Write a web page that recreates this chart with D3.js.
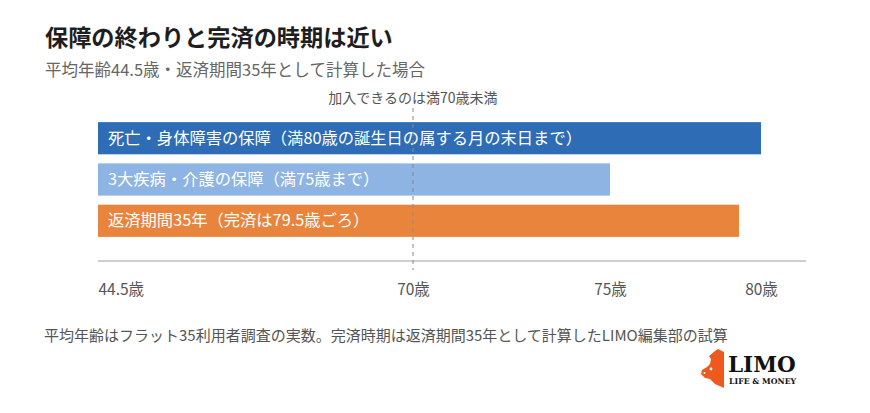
<!DOCTYPE html>
<html><head><meta charset="utf-8">
<script src="https://cdn.jsdelivr.net/npm/d3@7"></script>
<style>
html,body{margin:0;padding:0;background:#fff;}
svg{display:block;font-family:"Noto Sans CJK JP","Noto Sans",sans-serif;}
</style></head>
<body>
<svg id="chart" width="870" height="413"></svg>
<script>
const title = "保障の終わりと完済の時期は近い";
const subtitle = "平均年齢44.5歳・返済期間35年として計算した場合";
const note = "平均年齢はフラット35利用者調査の実数。完済時期は返済期間35年として計算したLIMO編集部の試算";
const refLabel = "加入できるのは満70歳未満";
const startAge = 44.5;
const refAge = 70;
const categories = ["死亡・身体障害の保障（満80歳の誕生日の属する月の末日まで）", "3大疾病・介護の保障（満75歳まで）", "返済期間35年（完済は79.5歳ごろ）"];
const endAges = [80, 75, 79.5];
const barColors = ["#2e6db5", "#8db4e2", "#e8843c"];
const tickValues = [44.5, 70, 75, 80];

const svg = d3.select("#chart");

// illustrative (non-uniform) age axis, as in the original graphic
const x = d3.scaleLinear()
  .domain([44.5, 70, 75, 79.5, 80])
  .range([98, 413, 610, 739, 761]);

const y = d3.scaleBand().domain(categories).range([118, 241]).paddingInner(0.22).paddingOuter(0.1);

svg.append("text").attr("x", 45).attr("y", 46)
  .attr("font-size", 23.2).attr("font-weight", "bold").attr("fill", "#1e1e1e").text(title);
svg.append("text").attr("x", 45).attr("y", 76)
  .attr("font-size", 16.5).attr("fill", "#666").text(subtitle);

// bars
svg.selectAll("rect.bar").data(categories).join("rect")
  .attr("class", "bar")
  .attr("x", x(startAge))
  .attr("y", d => y(d))
  .attr("width", (d, i) => x(endAges[i]) - x(startAge))
  .attr("height", y.bandwidth())
  .attr("fill", (d, i) => barColors[i]);

svg.selectAll("text.blabel").data(categories).join("text")
  .attr("class", "blabel")
  .attr("x", x(startAge) + 10)
  .attr("y", d => y(d) + y.bandwidth() / 2)
  .attr("dy", "0.35em")
  .attr("font-size", 16.3)
  .attr("fill", "#fff")
  .text(d => d);

// axis baseline
svg.append("line").attr("x1", x(startAge)).attr("x2", 806)
  .attr("y1", 261).attr("y2", 261)
  .attr("stroke", "#cfcfcf").attr("stroke-width", 2);

// reference dashed line
svg.append("line").attr("x1", x(refAge)).attr("x2", x(refAge))
  .attr("y1", 108).attr("y2", 270)
  .attr("stroke", "#888").attr("stroke-width", 1).attr("stroke-dasharray", "4,4");
svg.append("text").attr("x", x(refAge)).attr("y", 103)
  .attr("text-anchor", "middle").attr("font-size", 14).attr("fill", "#555").text(refLabel);

// axis tick labels
const axis = d3.axisBottom(x).tickValues(tickValues).tickSize(0).tickPadding(0)
  .tickFormat(d => d + "歳");
const gAxis = svg.append("g").attr("transform", "translate(0,284)").call(axis);
gAxis.select(".domain").remove();
gAxis.selectAll(".tick text")
  .attr("font-family", "\"Noto Sans CJK JP\",sans-serif")
  .attr("font-size", 15.5).attr("fill", "#555")
  .attr("text-anchor", d => d === startAge ? "start" : "middle");

// footer note
svg.append("text").attr("x", 44).attr("y", 341)
  .attr("font-size", 15).attr("fill", "#555").text(note);

// logo
const logo = svg.append("g").attr("transform", "translate(690,345)");
logo.append("path")
  .attr("d", "M25,6 L28,4 L34,7 L34,43 L25,39 L20,34 L15,33 L11,29 L12,25 L17,22 L20,19 L21,14 L19,11 Z")
  .attr("fill", "#ee5a1e");
logo.append("circle").attr("cx", 21).attr("cy", 24).attr("r", 1.4).attr("fill", "#fff");
logo.append("circle").attr("cx", 14.5).attr("cy", 28).attr("r", 1).attr("fill", "#fff");
svg.append("text").attr("x", 728).attr("y", 372)
  .attr("font-family", "\"DejaVu Serif\",serif").attr("font-weight", "bold")
  .attr("font-size", 21.5).attr("fill", "#111").text("LIMO");
svg.append("text").attr("x", 729).attr("y", 384)
  .attr("font-family", "\"DejaVu Serif\",serif").attr("font-weight", "bold")
  .attr("font-size", 7.8).attr("fill", "#111").text("LIFE & MONEY");
</script>
</body></html>
